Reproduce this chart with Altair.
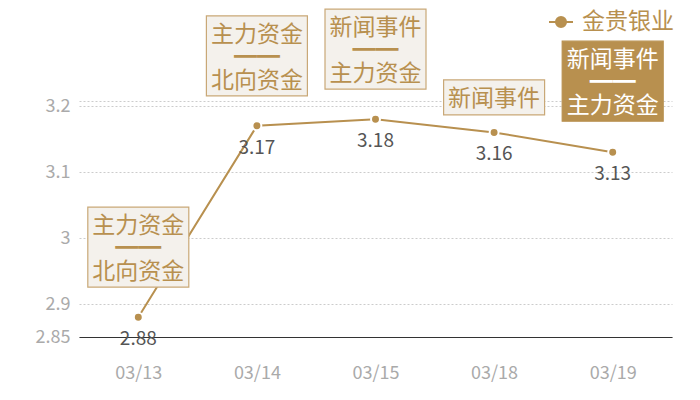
import altair as alt
import pandas as pd

# ---- data ----
dates = ["03/13", "03/14", "03/15", "03/18", "03/19"]
values = [2.88, 3.17, 3.18, 3.16, 3.13]
series_name = "金贵银业"
y_ticks = [2.85, 2.9, 3.0, 3.1, 3.2]
y_top = 3.2076

ann_dates = ["03/13", "03/14", "03/15", "03/18", "03/19"]
ann_texts = [
    ["主力资金", "━━", "北向资金"],
    ["主力资金", "━━", "北向资金"],
    ["新闻事件", "━━", "主力资金"],
    ["新闻事件"],
    ["新闻事件", "━━", "主力资金"],
]

# ---- style ----
GOLD = "#b8904f"
BOX_FILL = "#f4f1ec"
BOX_STROKE = "#c9a877"
FONT = "Noto Sans CJK SC"
LINE_H = 23
ann_dy = [-70, -70, -70, -35, -71]
ann_h = [80, 80, 80, 35, 80]
ann_w = 101
ann_filled = [False, False, False, False, True]

df = pd.DataFrame({"date": dates, "value": values, "series": [series_name] * len(dates)})

x_enc = alt.X("date:N", sort=dates,
              scale=alt.Scale(paddingInner=0, paddingOuter=0),
              axis=alt.Axis(title=None, labelAngle=0, ticks=False, domainColor="#333333",
                            domainWidth=1, labelColor="#aaaaaa", labelFontSize=18,
                            labelFont=FONT, labelPadding=27, grid=False))
y_enc = alt.Y("value:Q",
              scale=alt.Scale(domain=[y_ticks[0], y_top], nice=False, zero=False),
              axis=alt.Axis(title=None, values=y_ticks + [y_top], format="~g",
                            labelExpr="datum.value > 3.205 ? '' : datum.label",
                            domain=False, ticks=False, labelColor="#aaaaaa",
                            labelFontSize=18, labelFont=FONT, labelPadding=9,
                            grid=True, gridColor="#cccccc", gridDash=[2, 2], gridWidth=1))

base = alt.Chart(df).encode(x=x_enc, y=y_enc)

legend_symbol = "M-1,0L1,0M-0.42,0A0.42,0.42 0 1,1 0.42,0A0.42,0.42 0 1,1 -0.42,0Z"

line = base.mark_line(strokeWidth=2).encode(
    color=alt.Color("series:N", scale=alt.Scale(range=[GOLD]),
                    legend=alt.Legend(title=None, orient="none", legendX=469, legendY=-92,
                                      symbolType=legend_symbol, symbolSize=576,
                                      symbolStrokeWidth=2, symbolStrokeColor=GOLD,
                                      symbolFillColor=GOLD, labelFont=FONT,
                                      labelFontSize=23, labelColor=GOLD, labelOffset=8,
                                      padding=0))
)
points = base.mark_circle(size=80, color=GOLD, opacity=1, stroke="white", strokeWidth=2)
labels = base.mark_text(dy=22, fontSize=19, font=FONT, color="#555555").encode(
    text=alt.Text("value:Q", format=".2f"))

layers = [line, points, labels]

for i, d in enumerate(ann_dates):
    v = values[dates.index(d)]
    adf = pd.DataFrame({"date": [d], "value": [v], "txt": [ann_texts[i]]})
    r = ann_h[i] / ann_w
    path = f"M-1,-{r:.4f}H1V{r:.4f}H-1Z"
    filled = ann_filled[i]
    n = len(ann_texts[i])
    box = alt.Chart(adf).mark_point(
        shape=path, size=ann_w * ann_w, filled=True, opacity=1,
        fill=GOLD if filled else BOX_FILL,
        stroke=GOLD if filled else BOX_STROKE, strokeWidth=1.2,
        yOffset=ann_dy[i]).encode(x=alt.X("date:N", sort=dates), y="value:Q")
    txt = alt.Chart(adf).mark_text(
        font=FONT, fontSize=23, lineHeight=LINE_H, baseline="middle", align="center",
        color="white" if filled else GOLD,
        yOffset=ann_dy[i] - (n - 1) * LINE_H / 2 + 2).encode(
        x=alt.X("date:N", sort=dates), y="value:Q", text="txt")
    layers += [box, txt]

chart = alt.layer(*layers).properties(
    width=593, height=236,
    autosize=alt.AutoSizeParams(type="none"),
    padding={"left": 71, "top": 93, "right": 20, "bottom": 55},
    background="white",
).configure_view(stroke=None)

chart.save("out.html", embed_options={"renderer": "svg", "actions": False})
